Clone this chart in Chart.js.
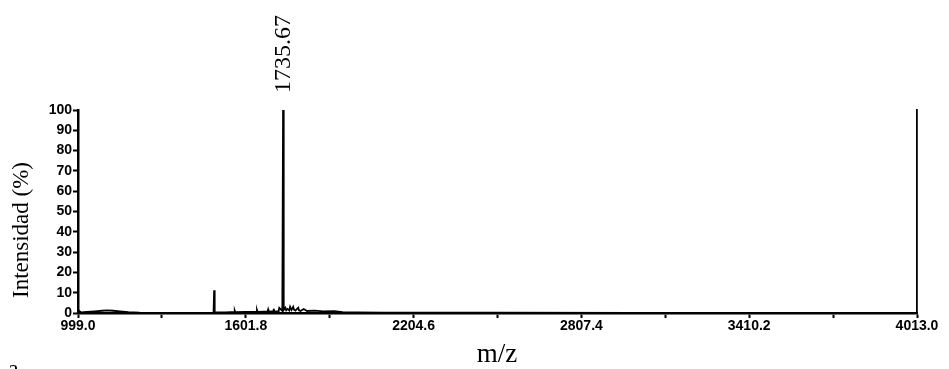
<!DOCTYPE html>
<html>
<head>
<meta charset="utf-8">
<script src="https://cdn.jsdelivr.net/npm/chart.js@4"></script>
<style>
  body { margin: 0; background: #fff; }
  #wrap { width: 949px; height: 369px; position: relative; }
</style>
</head>
<body>
<div id="wrap"><canvas id="msChart"></canvas></div>
<script>
// spectrum (m/z, relative intensity %)
const mzValues = [999, 1010, 1030, 1060, 1085, 1105, 1125, 1150, 1180, 1220, 1300, 1400, 1486, 1488, 1490,
  1530, 1560, 1562, 1564, 1600, 1620, 1640, 1642, 1644, 1665, 1680, 1682, 1684, 1700, 1702, 1704,
  1718, 1720, 1722, 1733, 1735.67, 1738, 1744, 1747, 1752, 1758, 1761, 1766, 1772, 1775, 1780,
  1790, 1793, 1798, 1810, 1822, 1850, 1880, 1920, 1950, 2000, 2100, 2500, 3000, 3500, 4013];
const intensityValues = [1.5, 0.3, 0.5, 0.8, 1.1, 1.3, 1.1, 0.8, 0.4, 0.2, 0.1, 0.1, 0.2, 11.2, 0.3,
  0.3, 0.5, 1.2, 0.4, 0.5, 0.6, 0.6, 1.4, 0.5, 0.7, 0.7, 1.7, 0.6, 0.9, 2.1, 0.7,
  0.9, 1.1, 2.5, 1.0, 100, 1.5, 2.6, 1.3, 2.0, 1.2, 3.0, 1.5, 3.0, 1.6, 1.2,
  2.6, 1.3, 1.0, 2.0, 1.0, 1.2, 0.8, 0.9, 0.4, 0.3, 0.2, 0.15, 0.1, 0.1, 0.1];

const xTickValues = [999.0, 1300.4, 1601.8, 1903.2, 2204.6, 2505.9, 2807.4, 3108.8, 3410.2, 3711.6, 4013.0];
const xTickLabels = ['999.0', '', '1601.8', '', '2204.6', '', '2807.4', '', '3410.2', '', '4013.0'];
const yTickValues = [0, 10, 20, 30, 40, 50, 60, 70, 80, 90, 100];

const peakLabel = { mz: 1735.67, text: '1735.67' };
const xTitle = 'm/z';
const yTitle = 'Intensidad (%)';
const panelLetter = 'a';

const points = mzValues.map((m, i) => ({ x: m, y: intensityValues[i] }));

// axis titles + peak label, drawn after the chart
const labelsPlugin = {
  id: 'labelsPlugin',
  afterDraw(chart) {
    const ctx = chart.ctx;
    const area = chart.chartArea;
    const xs = chart.scales.x;
    ctx.save();
    ctx.fillStyle = '#000';

    // peak label, rotated
    ctx.save();
    ctx.translate(xs.getPixelForValue(peakLabel.mz) + 1, area.top - 17);
    ctx.rotate(-Math.PI / 2);
    ctx.font = '24px "Liberation Serif", serif';
    ctx.textAlign = 'left';
    ctx.textBaseline = 'middle';
    ctx.fillText(peakLabel.text, 0, 0);
    ctx.restore();

    // y title
    ctx.save();
    ctx.translate(22, 230);
    ctx.rotate(-Math.PI / 2);
    ctx.font = '23px "Liberation Serif", serif';
    ctx.textAlign = 'center';
    ctx.textBaseline = 'middle';
    ctx.fillText(yTitle, 0, 0);
    ctx.restore();

    // x title
    ctx.font = '27px "Liberation Serif", serif';
    ctx.textAlign = 'center';
    ctx.textBaseline = 'middle';
    ctx.fillText(xTitle, 497, 355);

    // cut-off panel letter at the bottom edge
    ctx.font = '24px "Liberation Serif", serif';
    ctx.textAlign = 'left';
    ctx.textBaseline = 'alphabetic';
    ctx.fillText(panelLetter, 8, 376);

    ctx.restore();
  }
};

const ctx = document.getElementById('msChart').getContext('2d');
new Chart(ctx, {
  type: 'line',
  data: {
    datasets: [{
      data: points,
      borderColor: '#000',
      borderWidth: 1.8,
      pointRadius: 0,
      tension: 0,
      fill: false
    }]
  },
  options: {
    responsive: true,
    maintainAspectRatio: false,
    animation: false,
    layout: { padding: { top: 110, right: 32, bottom: 0, left: 0 } },
    plugins: { legend: { display: false }, tooltip: { enabled: false } },
    scales: {
      x: {
        type: 'linear',
        min: 999,
        max: 4013,
        afterBuildTicks: (s) => { s.ticks = xTickValues.map(v => ({ value: v })); },
        afterFit: (s) => { s.height = 56; },
        grid: { drawOnChartArea: false, tickLength: 5, tickColor: '#000', tickWidth: 2 },
        border: { color: '#000', width: 2.5 },
        ticks: {
          autoSkip: false,
          maxRotation: 0,
          padding: 0,
          color: '#000',
          font: { family: '"Liberation Sans", Arial, sans-serif', size: 14, weight: 'bold' },
          callback: (v, i) => xTickLabels[i]
        }
      },
      y: {
        min: 0,
        max: 100,
        afterBuildTicks: (s) => { s.ticks = yTickValues.map(v => ({ value: v })); },
        afterFit: (s) => { s.width = 78; },
        grid: { drawOnChartArea: false, tickLength: 5, tickColor: '#000', tickWidth: 2 },
        border: { color: '#000', width: 2.5 },
        ticks: {
          padding: 1,
          color: '#000',
          font: { family: '"Liberation Sans", Arial, sans-serif', size: 14, weight: 'bold' }
        }
      },
      y2: {
        position: 'right',
        min: 0,
        max: 100,
        afterFit: (s) => { s.width = 0; },
        grid: { display: false, drawTicks: false },
        border: { color: '#000', width: 1.8 },
        ticks: { display: false }
      }
    }
  },
  plugins: [labelsPlugin]
});
</script>
</body>
</html>
